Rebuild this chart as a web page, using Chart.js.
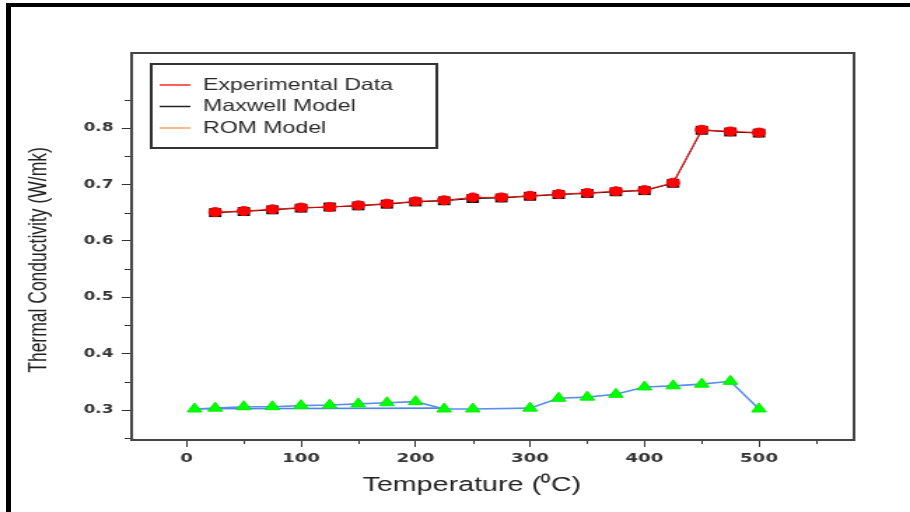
<!DOCTYPE html>
<html>
<head>
<meta charset="utf-8">
<script src="https://cdn.jsdelivr.net/npm/chart.js@4.4.1/dist/chart.umd.min.js"></script>
<style>
  html, body { margin: 0; padding: 0; background: #fff; overflow: hidden; }
  #page { position: relative; width: 910px; height: 512px; }
  /* the source picture is stretched sideways, so the chart is drawn narrow and scaled */
  #wrap { position: absolute; left: 0; top: 0; width: 650px; height: 512px; transform: scaleX(1.4); transform-origin: 0 0; }
  #frame { position: absolute; left: 6px; top: 3px; right: 0; bottom: 0; border-top: 4px solid #000; border-left: 5px solid #000; }
</style>
</head>
<body>
<div id="page">
  <div id="wrap"><canvas id="chart" width="650" height="512"></canvas></div>
  <div id="frame"></div>
</div>
<script>
// experimental + maxwell (red circles / black squares)
var expTemps = [25, 50, 75, 100, 125, 150, 175, 200, 225, 250, 275, 300, 325, 350, 375, 400, 425, 450, 475, 500]
var expValues = [0.651, 0.653, 0.656, 0.659, 0.660, 0.663, 0.666, 0.670, 0.672, 0.677, 0.677, 0.680, 0.683, 0.685, 0.688, 0.690, 0.703, 0.797, 0.794, 0.792]
var maxwellValues = [0.650, 0.652, 0.655, 0.658, 0.660, 0.662, 0.665, 0.669, 0.671, 0.675, 0.676, 0.679, 0.682, 0.684, 0.687, 0.689, 0.702, 0.796, 0.793, 0.791]

// green triangles on the blue line
var romTemps = [7, 25, 50, 75, 100, 125, 150, 175, 200, 225, 250, 300, 325, 350, 375, 400, 425, 450, 475, 500]
var romValues = [0.302, 0.3035, 0.306, 0.306, 0.308, 0.309, 0.311, 0.313, 0.315, 0.302, 0.302, 0.3035, 0.321, 0.323, 0.328, 0.341, 0.343, 0.346, 0.351, 0.302]

// second flat blue line under the triangles
var lowerTemps = [7, 225]
var lowerValues = [0.3025, 0.3035]

var legendLabels = ['Experimental Data', 'Maxwell Model', 'ROM Model']
var legendColors = ['#ff2a2a', '#222222', '#ffa366']

var xMinorTicks = [50, 150, 250, 350, 450, 550]
var yMinorTicks = [0.25, 0.35, 0.45, 0.55, 0.65, 0.75, 0.85]

var xTitle = 'Temperature (\u2070C)'
var yTitle = 'Thermal Conductivity (W/mk)'

function pts(xs, ys) {
    return xs.map(function (x, i) { return { x: x, y: ys[i] } })
}

var decorations = {
    id: 'decorations',
    afterDraw: function (chart) {
        var c = chart.ctx
        var a = chart.chartArea
        var xs = chart.scales.x
        var ys = chart.scales.y
        c.save()

        // minor ticks
        c.strokeStyle = '#333'
        c.lineWidth = 1
        xMinorTicks.forEach(function (v) {
            var px = Math.round(xs.getPixelForValue(v)) + 0.5
            c.beginPath(); c.moveTo(px, a.bottom); c.lineTo(px, a.bottom + 4); c.stroke()
        })
        yMinorTicks.forEach(function (v) {
            var py = Math.round(ys.getPixelForValue(v)) + 0.5
            c.beginPath(); c.moveTo(a.left - 5, py); c.lineTo(a.left, py); c.stroke()
        })

        // plot box
        c.strokeStyle = '#444'
        c.lineWidth = 2
        c.strokeRect(a.left, a.top, a.right - a.left, a.bottom - a.top)

        // legend box
        c.strokeStyle = '#333'
        c.lineWidth = 2
        c.strokeRect(108, 64, 204, 84)
        c.font = '16.5px "Liberation Sans", Arial, sans-serif'
        c.textBaseline = 'middle'
        c.textAlign = 'left'
        var rows = [85, 106.5, 128]
        legendLabels.forEach(function (lbl, i) {
            c.strokeStyle = legendColors[i]
            c.lineWidth = 1.5
            c.beginPath(); c.moveTo(114, rows[i]); c.lineTo(136, rows[i]); c.stroke()
            c.fillStyle = '#2a2a2a'
            c.fillText(lbl, 145, rows[i])
        })

        // axis titles
        c.fillStyle = '#222'
        c.textAlign = 'center'
        c.font = '20.5px "Liberation Sans", Arial, sans-serif'
        c.fillText(xTitle, 337, 485)

        c.translate(28.6, 260)
        c.rotate(-Math.PI / 2)
        c.font = '17.5px "Liberation Sans", Arial, sans-serif'
        c.fillText(yTitle, 0, 0)
        c.restore()
    }
}

var chartEl = document.getElementById('chart')

new Chart(chartEl, {
    type: 'line',
    data: {
        datasets: [
            {
                label: legendLabels[0],
                data: pts(expTemps, expValues),
                borderColor: '#ff0000',
                backgroundColor: '#ff0000',
                borderWidth: 1,
                pointStyle: 'circle',
                pointRadius: 4.5,
                pointBorderWidth: 1
            },
            {
                label: legendLabels[1],
                data: pts(expTemps, maxwellValues),
                borderColor: '#111',
                backgroundColor: '#111',
                borderWidth: 1,
                pointStyle: 'rect',
                pointRadius: 6.3,
                pointBorderWidth: 0
            },
            {
                label: legendLabels[2],
                data: pts(romTemps, romValues),
                borderColor: '#5b8fea',
                backgroundColor: '#00ff00',
                pointBorderColor: '#00ee00',
                borderWidth: 1.6,
                pointStyle: 'triangle',
                pointRadius: 6,
                pointBorderWidth: 1
            },
            {
                label: 'lower',
                data: pts(lowerTemps, lowerValues),
                borderColor: '#4f86e6',
                borderWidth: 1.6,
                pointRadius: 0
            }
        ]
    },
    options: {
        responsive: false,
        animation: false,
        devicePixelRatio: 1,
        layout: { padding: { top: 53, right: 40, left: 0, bottom: 0 } },
        plugins: { legend: { display: false }, tooltip: { enabled: false } },
        scales: {
            x: {
                type: 'linear',
                min: -48,
                max: 583,
                afterFit: function (s) { s.height = 72 },
                border: { display: false },
                grid: { drawOnChartArea: false, tickLength: 7, tickColor: '#333', tickWidth: 1 },
                ticks: {
                    stepSize: 100,
                    includeBounds: false,
                    autoSkip: false,
                    maxRotation: 0,
                    padding: 4,
                    color: '#333',
                    font: { family: 'DejaVu Sans', size: 13, weight: 'bold' }
                }
            },
            y: {
                type: 'linear',
                min: 0.247,
                max: 0.933,
                afterFit: function (s) { s.width = 94 },
                border: { display: false },
                grid: {
                    drawOnChartArea: false,
                    tickLength: 7,
                    tickWidth: 1,
                    tickColor: function (ctx) { return ctx.tick && ctx.tick.value > 0.85 ? 'rgba(0,0,0,0)' : '#333' }
                },
                ticks: {
                    stepSize: 0.1,
                    includeBounds: false,
                    padding: 6,
                    color: '#333',
                    font: { family: 'DejaVu Sans', size: 12, weight: 'bold' },
                    callback: function (v) { return v > 0.85 ? '' : v.toFixed(1) }
                }
            }
        }
    },
    plugins: [decorations]
})
</script>
</body>
</html>
